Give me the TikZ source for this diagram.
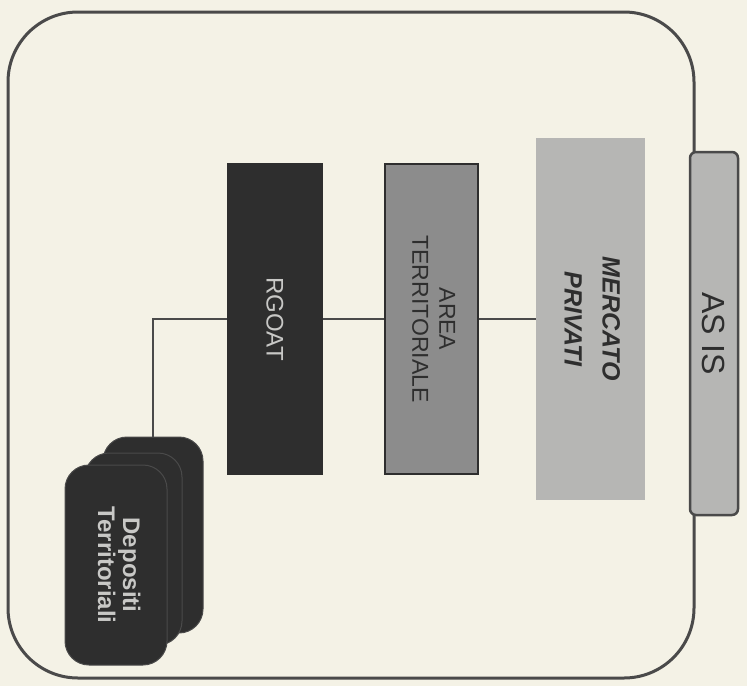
\documentclass[tikz,border=0pt]{standalone}
\usepackage{fontspec}
\setmainfont{Liberation Sans}
\definecolor{paper}{HTML}{F4F2E6}
\definecolor{frameline}{HTML}{4A4A4A}
\definecolor{darkbox}{HTML}{2E2E2E}
\definecolor{midbox}{HTML}{8C8C8C}
\definecolor{lightbox}{HTML}{B6B6B4}
\definecolor{pale}{HTML}{C8C8C6}
\tikzset{
  >=latex,
}
\tikzstyle{every node}=[inner sep=0pt,align=center]
\tikzstyle{frame}=[line width=3pt,frameline,rounded corners=70pt]
\tikzstyle{link}=[line width=1.2pt,frameline]
\tikzstyle{bar}=[draw=darkbox,line width=2pt]
\tikzstyle{card}=[fill=darkbox,draw=frameline,line width=1pt,rounded corners=24pt,
  minimum width=100pt,minimum height=196pt]

\begin{document}
\begin{tikzpicture}[x=1pt,y=-1pt]
    \useasboundingbox (0,0) rectangle (747,686);
    \fill[paper] (0,0) rectangle (747,686);
    % outer frame and tab
    \draw[frame] (8,12) rectangle (694,678);
    \node[fill=lightbox,draw=frameline,line width=2.5pt,rounded corners=6pt,
      minimum width=48pt,minimum height=363pt,text=darkbox,
      font=\fontsize{32}{36}\selectfont] (asis) at (714,333.5)
      {\rotatebox{-90}{AS IS}};
    % bars
    \node[bar,fill=darkbox,minimum width=94pt,minimum height=310pt,text=pale,
      font=\fontsize{24}{28}\selectfont] (rgoat) at (275,319)
      {\rotatebox{-90}{RGOAT}};
    \node[bar,fill=midbox,minimum width=93pt,minimum height=310pt,text=darkbox,
      font=\fontsize{23}{28}\selectfont] (area) at (431.5,319)
      {\rotatebox{-90}{\begin{tabular}{@{}c@{}}AREA\\[-1pt]TERRITORIALE\end{tabular}}};
    \node[fill=lightbox,minimum width=109pt,minimum height=362pt,text=darkbox,
      font=\fontsize{25}{34}\selectfont\bfseries\itshape] (mercato) at (590.5,319)
      {\rotatebox{-90}{\begin{tabular}{@{}c@{}}MERCATO\\[4pt]PRIVATI\end{tabular}}};
    % stack of deposits
    \node[card] (dep3) at (153,535) {};
    \node[card,minimum width=97pt,minimum height=192pt] (dep2) at (133.5,549) {};
    \node[card,minimum width=102pt,minimum height=200pt,text=pale,
      font=\fontsize{24}{27}\selectfont\bfseries] (dep1) at (116,565)
      {\rotatebox{-90}{\begin{tabular}{@{}c@{}}Depositi\\[-2pt]Territoriali\end{tabular}}};
    % links
    \draw[link] (rgoat.west) -| (dep3.north);
    \draw[link] (rgoat.east) -- (area.west);
    \draw[link] (area.east) -- (mercato.west);
  \end{tikzpicture}
\end{document}
